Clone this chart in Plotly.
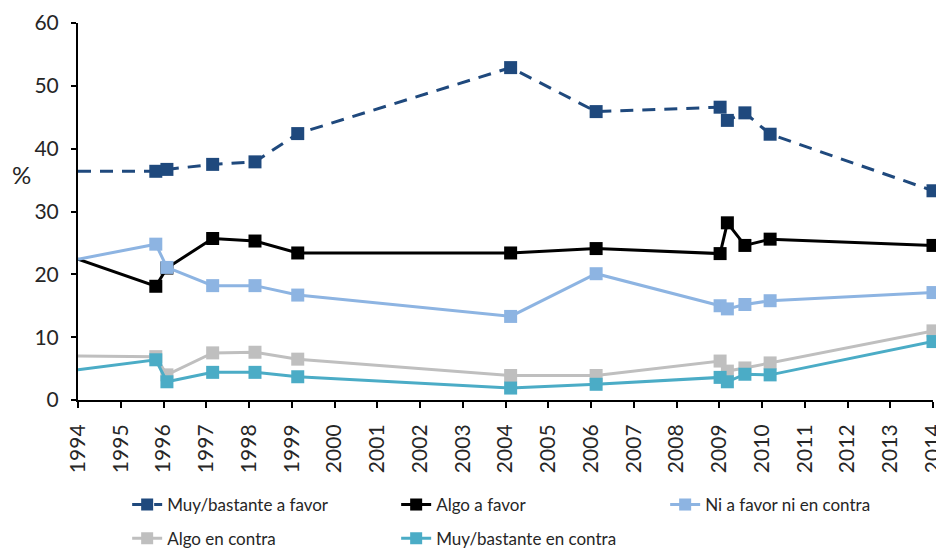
import plotly.graph_objects as go

years = [1994, 1995.82, 1996.08, 1997.15, 1998.14, 1999.14, 2004.12, 2006.12,
         2009.02, 2009.19, 2009.6, 2010.19, 2014.0]

muy_favor = [36.4, 36.4, 36.7, 37.5, 37.9, 42.4, 52.9, 45.9, 46.6, 44.5, 45.7, 42.3, 33.3]
algo_favor = [22.4, 18.1, 21.0, 25.7, 25.3, 23.4, 23.4, 24.1, 23.3, 28.2, 24.6, 25.6, 24.6]
ni_ni = [22.4, 24.8, 21.1, 18.2, 18.2, 16.7, 13.3, 20.1, 15.0, 14.5, 15.2, 15.8, 17.1]
algo_contra = [7.0, 6.9, 4.0, 7.5, 7.6, 6.5, 3.9, 3.9, 6.2, 4.6, 5.1, 5.9, 11.0]
muy_contra = [4.8, 6.4, 2.9, 4.4, 4.4, 3.7, 1.9, 2.5, 3.6, 2.9, 4.1, 4.0, 9.3]

names = ["Muy/bastante a favor", "Algo a favor", "Ni a favor ni en contra",
         "Algo en contra", "Muy/bastante en contra"]
colors = ["#1F497D", "#000000", "#8DB4E2", "#BFBFBF", "#4BACC6"]
dashes = ["13px,9px", "solid", "solid", "solid", "solid"]
legends = ["legend", "legend", "legend", "legend2", "legend2"]
series = [muy_favor, algo_favor, ni_ni, algo_contra, muy_contra]
tick_years = list(range(1994, 2015))

FONT = "Lato"
TXT = "#262626"

fig = go.Figure()
for name, vals, col, dash, lg in zip(names, series, colors, dashes, legends):
    # first point (1994) has no marker
    sizes = [0] + [13] * (len(years) - 1)
    fig.add_trace(go.Scatter(
        x=years, y=vals, name=name, mode="lines+markers",
        line=dict(color=col, width=3, dash=dash),
        marker=dict(symbol="square", size=sizes, color=col, opacity=1,
                    line=dict(width=0)),
        cliponaxis=False, legend=lg,
    ))

leg_common = dict(
    orientation="h", xanchor="left", yanchor="middle",
    entrywidth=224, entrywidthmode="pixels",
    font=dict(family=FONT, size=17, color=TXT),
    traceorder="normal", itemwidth=30, bgcolor="rgba(0,0,0,0)",
)

fig.update_layout(
    width=936, height=540,
    margin=dict(l=70, r=11, t=15, b=148, autoexpand=False),
    plot_bgcolor="white", paper_bgcolor="white",
    font=dict(family=FONT, color=TXT, size=20),
    showlegend=True,
    legend=dict(x=0.0575, y=-0.2785, **leg_common),
    legend2=dict(x=0.0575, y=-0.368, **leg_common),
    xaxis=dict(
        range=[1994, 2014], tickmode="array", tickvals=tick_years,
        ticktext=[str(t) for t in tick_years], tickangle=-90,
        showgrid=False, zeroline=False, showline=True, linecolor="#000000",
        linewidth=2, ticks="outside", ticklen=6, tickwidth=1.5, tickcolor="#000000",
        tickfont=dict(family=FONT, size=21, color=TXT), ticklabelstandoff=8,
    ),
    yaxis=dict(
        range=[0, 60], tickmode="array", tickvals=[0, 10, 20, 30, 40, 50, 60],
        showgrid=False, zeroline=False, showline=True, linecolor="#000000",
        linewidth=2, ticks="outside", ticklen=5, tickwidth=1.5, tickcolor="#000000",
        tickfont=dict(family=FONT, size=21, color=TXT), ticklabelstandoff=8,
    ),
    annotations=[dict(
        text="%", xref="paper", yref="paper", x=-0.0795, y=0.597,
        xanchor="left", yanchor="middle", showarrow=False,
        font=dict(family=FONT, size=24, color=TXT),
    )],
)

fig.write_html("out.html")
